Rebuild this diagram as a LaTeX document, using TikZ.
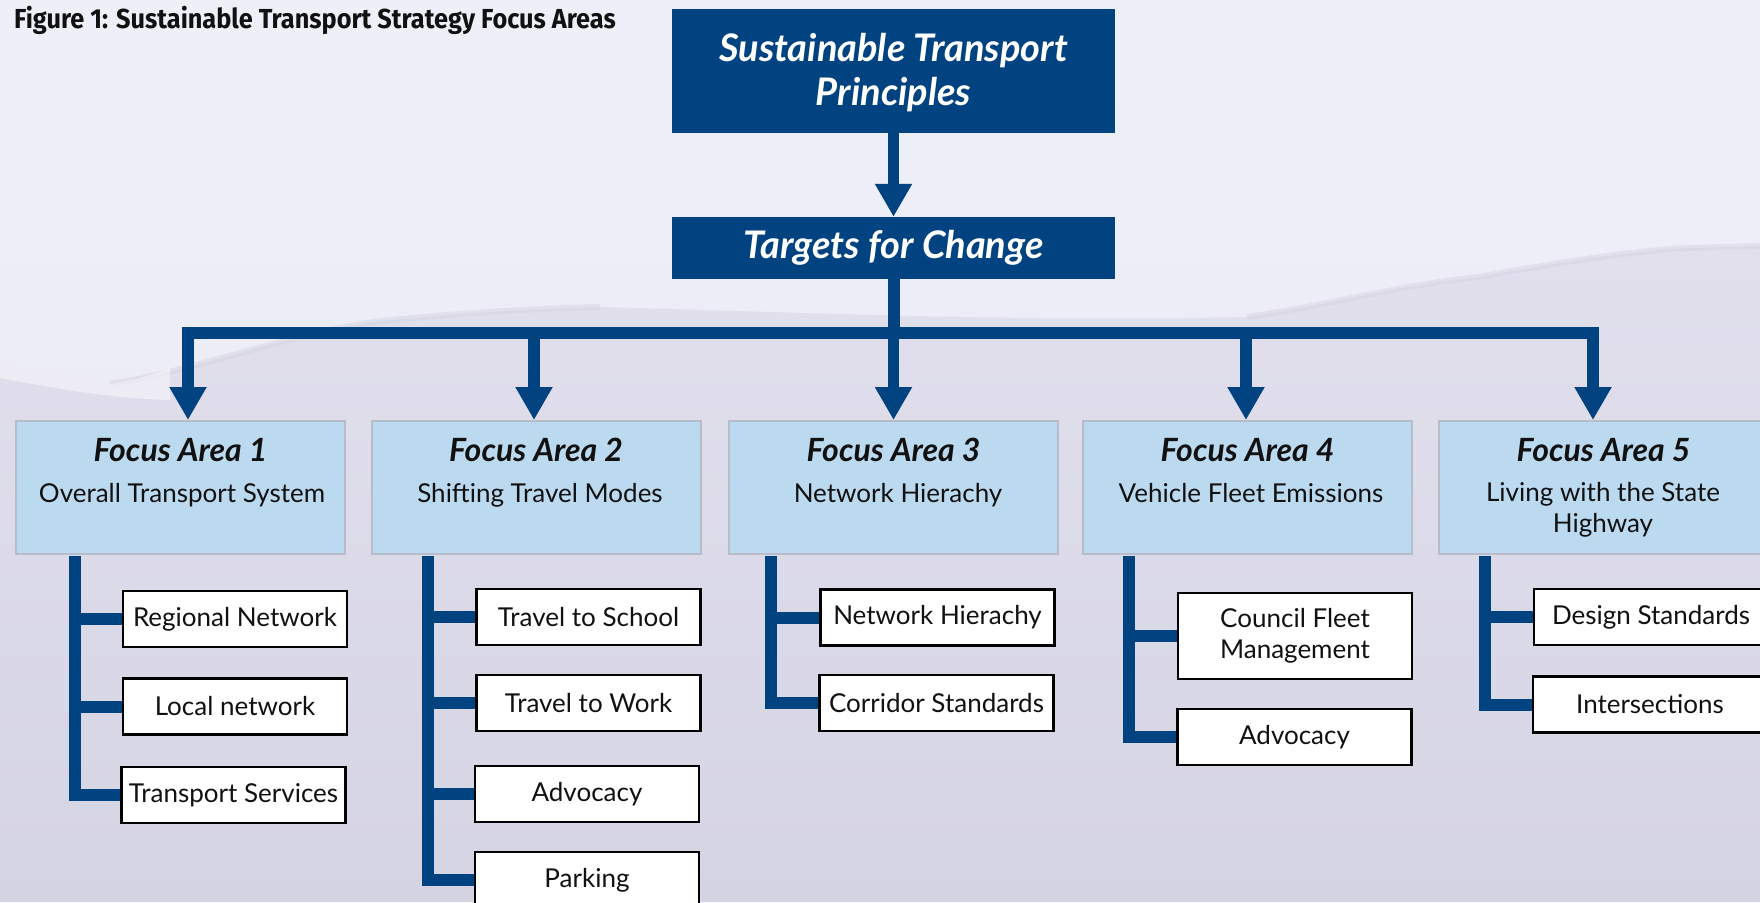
\documentclass[tikz,border=0pt]{standalone}
\usepackage{fontspec}
\setmainfont{Lato}
\newfontfamily\titlefont[FakeStretch=0.92]{Fira Sans}
\usetikzlibrary{arrows.meta}
\definecolor{navy}{RGB}{0,67,128}
\definecolor{skytop}{RGB}{238,240,249}
\definecolor{skymid}{RGB}{236,236,246}
\definecolor{hilltop}{RGB}{226,224,237}
\definecolor{hillbot}{RGB}{213,212,227}
\definecolor{ridge}{RGB}{214,212,226}
\definecolor{focusfill}{RGB}{187,218,240}
\definecolor{focusline}{RGB}{182,188,201}
\definecolor{ink}{RGB}{17,17,17}
\newcommand{\fsub}{\fontsize{26}{31}\selectfont}
\newcommand{\fab}{\fontsize{32}{36}\selectfont\bfseries\itshape}
\newcommand{\ftop}{\fontsize{38}{44}\selectfont\bfseries\itshape}
\tikzset{
  topbox/.style={fill=navy, draw=none, inner sep=0pt, minimum width=443pt},
  focusbox/.style={fill=focusfill, draw=focusline, line width=2pt, inner sep=0pt, minimum width=329pt, minimum height=133pt},
  subbox/.style={fill=white, draw=black, line width=2.6pt, inner sep=0pt, minimum height=56pt, text=ink, font=\fsub, align=center},
  bigarrow/.style={draw=navy, line width=11.5pt, -{Triangle[width=35pt,length=33pt]}},
  barline/.style={draw=navy, line width=12pt},
  tree/.style={draw=navy, line width=12pt, line join=miter},
  ftext/.style={inner sep=0pt, text=ink},
}
\begin{document}
\begin{tikzpicture}[x=1pt,y=-1pt]
\useasboundingbox (0,0) rectangle (1760,902);
\clip (0,0) rectangle (1760,902);
% background
\shade[top color=skytop, bottom color=skymid] (0,0) rectangle (1760,420);
\fill[skymid] (0,419) rectangle (1760,902);
\shade[top color=hilltop, bottom color=hillbot]
  (0,362) .. controls (60,372) and (100,384) .. (110,384)
  .. controls (200,370) and (300,330) .. (383,321)
  .. controls (450,314) and (520,309) .. (600,307)
  .. controls (800,312) and (1000,322) .. (1247,317)
  .. controls (1330,305) and (1400,285) .. (1479,277)
  .. controls (1560,262) and (1640,250) .. (1689,248)
  -- (1760,246) -- (1760,902) -- (0,902) -- cycle;
\draw[ridge, line width=6pt, opacity=0.5]
  (110,384) .. controls (200,370) and (300,330) .. (383,321)
  .. controls (450,314) and (520,309) .. (600,307);
\draw[ridge, line width=6pt, opacity=0.5]
  (1247,317) .. controls (1330,305) and (1400,285) .. (1479,277)
  .. controls (1560,262) and (1640,250) .. (1689,248) -- (1760,246);
\fill[white, opacity=0.45] (0,362) .. controls (60,372) and (100,384) .. (110,384)
  .. controls (140,380) and (160,372) .. (170,368) -- (170,400) .. controls (100,398) and (40,385) .. (0,378) -- cycle;

% title
\node[anchor=base west, inner sep=0pt, text=ink] (title) at (14,28)
  {\titlefont\bfseries\fontsize{27.5}{32}\selectfont Figure 1: Sustainable Transport Strategy Focus Areas};

% top boxes
\node[topbox, minimum height=124pt] (principles) at (893.5,71) {};
\node[anchor=base, inner sep=0pt, text=white] (pr1) at (893.5,61) {\ftop Sustainable Transport};
\node[anchor=base, inner sep=0pt, text=white] (pr2) at (893.5,105) {\ftop Principles};
\node[topbox, minimum height=62pt] (targets) at (893.5,248) {};
\node[anchor=base, inner sep=0pt, text=white] (tg) at (893.5,258) {\ftop Targets for Change};

% focus boxes
\node[focusbox] (fa1) at (180.5,487.5) {};
\node[focusbox] (fa2) at (536,487.5) {};
\node[focusbox] (fa3) at (893.5,487.5) {};
\node[focusbox] (fa4) at (1247.5,487.5) {};
\node[focusbox] (fa5) at (1603.5,487.5) {};

\node[ftext, anchor=base] (fa1a) at (180.5,461) {\fab Focus Area 1};
\node[ftext, anchor=base] (fa1b) at (182,502) {\fsub Overall Transport System};
\node[ftext, anchor=base] (fa2a) at (536,461) {\fab Focus Area 2};
\node[ftext, anchor=base] (fa2b) at (540,502) {\fsub Shifting Travel Modes};
\node[ftext, anchor=base] (fa3a) at (893.5,461) {\fab Focus Area 3};
\node[ftext, anchor=base] (fa3b) at (898,502) {\fsub Network Hierachy};
\node[ftext, anchor=base] (fa4a) at (1247.5,461) {\fab Focus Area 4};
\node[ftext, anchor=base] (fa4b) at (1251,502) {\fsub Vehicle Fleet Emissions};
\node[ftext, anchor=base] (fa5a) at (1603.5,461) {\fab Focus Area 5};
\node[ftext, anchor=north, align=center, font=\fsub] (fa5b) at (1603,482) {Living with the State\\Highway};

% arrows
\draw[bigarrow] (principles.south) -- (targets.north);
\coordinate (b1) at (188,333);
\coordinate (b2) at (534,333);
\coordinate (b3) at (893.5,333);
\coordinate (b4) at (1246,333);
\coordinate (b5) at (1593,333);
\draw[barline] (targets.south) -- (b3);
\draw[barline, line cap=rect] (b1) -- (b5);
\draw[bigarrow] (b1) -- (b1 |- fa1.north);
\draw[bigarrow] (b2) -- (b2 |- fa2.north);
\draw[bigarrow] (b3) -- (fa3.north);
\draw[bigarrow] (b4) -- (b4 |- fa4.north);
\draw[bigarrow] (b5) -- (b5 |- fa5.north);

% column 1
\node[subbox, minimum width=224pt] (s11) at (235,619) {Regional Network};
\node[subbox, minimum width=224pt] (s12) at (235,706.5) {Local network};
\node[subbox, minimum width=224pt] (s13) at (233.5,795) {Transport Services};
\coordinate (c1) at (75,556);
\draw[tree] (c1) |- (s13.west);
\draw[tree] (c1 |- s11.west) -- (s11.west);
\draw[tree] (c1 |- s12.west) -- (s12.west);

% column 2
\node[subbox, minimum width=224pt] (s21) at (588.5,617) {Travel to School};
\node[subbox, minimum width=224pt] (s22) at (588.5,703) {Travel to Work};
\node[subbox, minimum width=224pt] (s23) at (587,794) {Advocacy};
\node[subbox, minimum width=224pt] (s24) at (587,880) {Parking};
\coordinate (c2) at (427.5,556);
\draw[tree] (c2) |- (s24.west);
\draw[tree] (c2 |- s21.west) -- (s21.west);
\draw[tree] (c2 |- s22.west) -- (s22.west);
\draw[tree] (c2 |- s23.west) -- (s23.west);

% column 3
\node[subbox, minimum width=234pt] (s31) at (937.5,617.5) {Network Hierachy};
\node[subbox, minimum width=234pt] (s32) at (936.5,703) {Corridor Standards};
\coordinate (c3) at (771,556);
\draw[tree] (c3) |- (s32.west);
\draw[tree] (c3 |- s31.west) -- (s31.west);

% column 4
\node[subbox, minimum width=234pt, minimum height=86pt] (s41) at (1295,636) {Council Fleet\\Management};
\node[subbox, minimum width=234pt] (s42) at (1294.5,737) {Advocacy};
\coordinate (c4) at (1128.5,556);
\draw[tree] (c4) |- (s42.west);
\draw[tree] (c4 |- s41.west) -- (s41.west);

% column 5
\node[subbox, minimum width=234pt] (s51) at (1651,617) {Design Standards};
\node[subbox, minimum width=234pt] (s52) at (1650,704.5) {Intersections};
\coordinate (c5) at (1485,556);
\draw[tree] (c5) |- (s52.west);
\draw[tree] (c5 |- s51.west) -- (s51.west);
\end{tikzpicture}
\end{document}
